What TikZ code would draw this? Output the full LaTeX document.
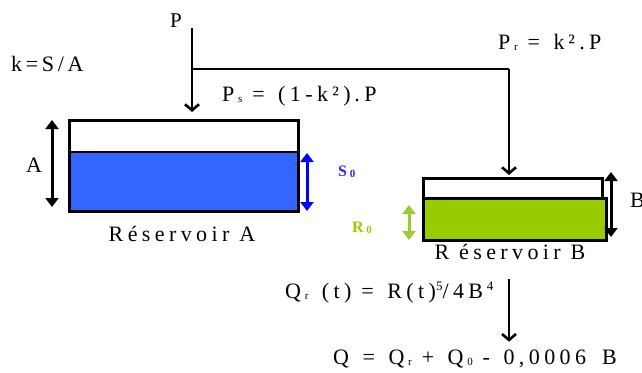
\documentclass[tikz,border=0pt]{standalone}
\usepackage{fontspec}
\setmainfont{Liberation Serif}
\newfontfamily\spacedfont[LetterSpace=20]{Liberation Serif}
\usetikzlibrary{arrows.meta}
\definecolor{waterA}{RGB}{51,102,255}
\definecolor{arrowS}{RGB}{0,0,255}
\definecolor{labelS}{RGB}{40,40,255}
\definecolor{waterB}{RGB}{153,204,0}
\definecolor{arrowR}{RGB}{153,204,51}
\newcommand\lowsub[1]{\raisebox{-1pt}{\fontsize{11}{11}\selectfont #1}}
\newcommand\highsup[1]{\raisebox{8pt}{\fontsize{13}{13}\selectfont #1}}
\begin{document}
\begin{tikzpicture}[x=1pt,y=-1pt,
  lbl/.style={inner sep=0pt, font=\spacedfont\fontsize{22}{24}\selectfont},
  flow/.style={line width=2.6pt, -{Straight Barb[length=6pt,width=14pt,line width=2.6pt]}},
  plain/.style={line width=2pt},
  dbl/.style={line width=3pt, {Triangle[length=9pt,width=13pt]}-{Triangle[length=9pt,width=13pt]}},
  tank/.style={draw, line width=2.8pt, inner sep=0pt, anchor=north west}]
\useasboundingbox (0,0) rectangle (642,372);

% Reservoir A
\fill[waterA] (68,152) rectangle (297,210);
\node[tank, minimum width=229pt, minimum height=91pt] (boxA) at (68,119) {};
\coordinate (levelAL) at (68,152);
\coordinate (levelAR) at (297,152);
\draw[line width=2.5pt] (levelAL) -- (levelAR);

% Reservoir B
\node[tank, minimum width=179pt, minimum height=20pt] (boxBtop) at (422,177) {};
\node[tank, fill=waterB, minimum width=183pt, minimum height=42pt] (boxBwater) at (422,197) {};

% texts
\node[lbl, font=\fontsize{21}{22}\selectfont] (P) at (176,21) {P};
\node[lbl, anchor=west] (k) at (11,64) {k\,=\,S\,/\,A};
\node[lbl, anchor=west] (Ps) at (222,96) {P\,\lowsub{s} = \,(1-k²)\,.P};
\node[lbl, anchor=west] (Pr) at (498,42) {P\,\lowsub{r} = \,k\,².P};
\node[lbl] (Alab) at (34,165) {A};
\node[lbl, anchor=west, text=labelS, font=\bfseries\fontsize{16}{16}\selectfont] (S0) at (338,172) {S\,\lowsub{0}};
\node[lbl, anchor=west, text=waterB, font=\bfseries\fontsize{16}{16}\selectfont] (R0) at (352,228) {R\,\lowsub{0}};
\node[lbl] (resA) at (182,234) {Réservoir A};
\node[lbl] (resB) at (510,252) {R éservoir B};
\node[lbl, anchor=west] (Blab) at (630,200) {B};
\node[lbl, anchor=west] (Qr) at (285,293) {Q\,\lowsub{r} \,(t) = \,R(t)\highsup{5}/4B\,\highsup{4}};
\node[lbl, anchor=west] (Q) at (333,359) {Q \,= \,Q\,\lowsub{r} + \,Q\,\lowsub{0} - \,0,0006 \;B};

% flows
\coordinate (split) at (192,69);
\coordinate (turn) at (509,69);
\draw[flow] (P.south -| split) -- (split) -- (192,112);
\draw[plain] (split) -- (turn);
\draw[flow, shorten >=2pt] (turn) -- (turn |- boxBtop.north);
\coordinate (qstart) at (509,279);
\draw[flow] (qstart) -- ([yshift=8pt]qstart |- Q.north);

% dimension arrows
\coordinate (aTop) at (52,120);
\coordinate (aBot) at (52,207);
\draw[dbl] (aTop) -- (aBot);
\coordinate (sTop) at (307,153);
\coordinate (sBot) at (307,211);
\draw[dbl, arrowS] (sTop) -- (sBot);
\coordinate (bTop) at (611,172);
\coordinate (bBot) at (611,237);
\draw[dbl] (bTop) -- (bBot);
\coordinate (rTop) at (409,205);
\coordinate (rBot) at (409,240);
\draw[dbl, arrowR] (rTop) -- (rBot);
\end{tikzpicture}
\end{document}
